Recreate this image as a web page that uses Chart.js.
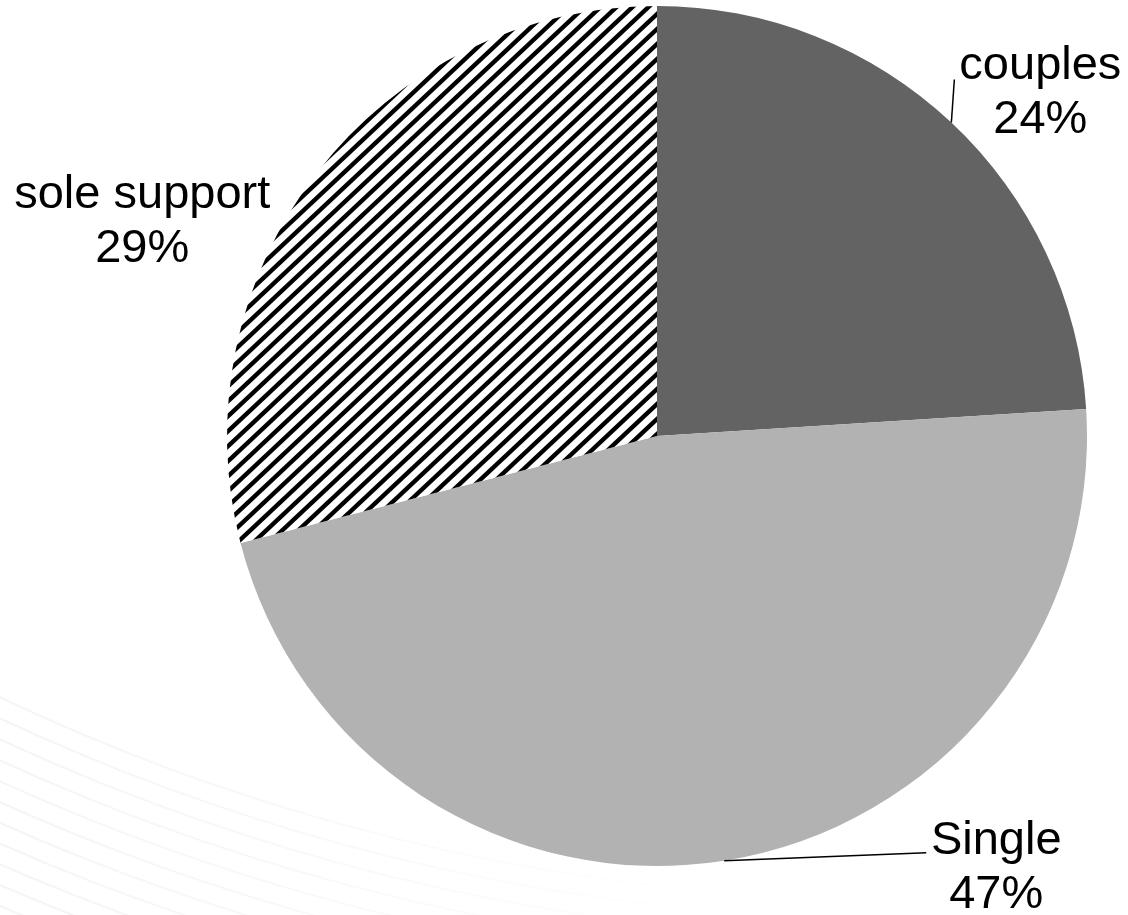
<!DOCTYPE html>
<html>
<head>
<meta charset="utf-8">
<script src="https://cdn.jsdelivr.net/npm/chart.js@4/dist/chart.umd.min.js"></script>
<style>
  html, body { margin: 0; padding: 0; background: #fff; }
  #wrap { width: 1128px; height: 915px; }
</style>
</head>
<body>
<div id="wrap"><canvas id="pie"></canvas></div>
<script>
'use strict'

// data
const categories = ['couples', 'Single', 'sole support'];
const shares = [24, 47, 29];

// hatch fill for the third slice
function stripePattern() {
  const H = 16, V = 15, n = 4;
  const c = document.createElement('canvas');
  c.width = H * n;
  c.height = V * n;
  const g = c.getContext('2d');
  g.fillStyle = '#fff';
  g.fillRect(0, 0, c.width, c.height);
  g.strokeStyle = '#000';
  g.lineWidth = 4.4;
  for (let k = -2 * n; k <= 2 * n; k++) {
    // run each line past the tile edges so the tiles join cleanly
    g.beginPath();
    g.moveTo(k * H - H, c.height + V);
    g.lineTo(k * H + n * H + H, -V);
    g.stroke();
  }
  return g.createPattern(c, 'repeat');
}

// where each label sits, relative to the slice's outer mid point
const labelSpots = [
  { dx: 89, dy: -44, line: [3, -43] },
  { dx: 272, dy: -7, line: [202, -8] },
  { dx: -175, dy: 36, line: null }
];

// faint swirl in the bottom left corner
const swirl = {
  id: 'swirl',
  beforeDraw(chart) {
    const ctx = chart.ctx;
    ctx.save();
    ctx.beginPath();
    ctx.rect(0, 640, 760, 275);
    ctx.clip();
    const grad = ctx.createLinearGradient(0, 0, 740, 0);
    grad.addColorStop(0, 'rgba(150,160,165,0.11)');
    grad.addColorStop(1, 'rgba(150,160,165,0)');
    ctx.strokeStyle = grad;
    ctx.lineWidth = 2;
    for (let r = 2100; r < 2360; r += 19) {
      ctx.beginPath();
      ctx.arc(900, -1200, r, Math.PI * 0.5, Math.PI * 0.85);
      ctx.stroke();
    }
    ctx.restore();
  }
};

// labels with leader lines
const sliceLabels = {
  id: 'sliceLabels',
  afterDatasetsDraw(chart) {
    const ctx = chart.ctx;
    const ds = chart.data.datasets[0];
    const total = ds.data.reduce(function (a, b) { return a + b; }, 0);
    chart.getDatasetMeta(0).data.forEach(function (arc, i) {
      const p = arc.getProps(['x', 'y', 'startAngle', 'endAngle', 'outerRadius'], true);
      const mid = (p.startAngle + p.endAngle) / 2;
      const ax = p.x + Math.cos(mid) * p.outerRadius;
      const ay = p.y + Math.sin(mid) * p.outerRadius;
      const spot = labelSpots[i];
      ctx.save();
      if (spot.line) {
        ctx.strokeStyle = '#000';
        ctx.lineWidth = 1.5;
        ctx.beginPath();
        ctx.moveTo(ax, ay);
        ctx.lineTo(ax + spot.line[0], ay + spot.line[1]);
        ctx.stroke();
      }
      ctx.fillStyle = '#000';
      ctx.font = '47px "Liberation Sans", Arial, sans-serif';
      ctx.textAlign = 'center';
      ctx.textBaseline = 'alphabetic';
      const pct = Math.round(ds.data[i] / total * 100) + '%';
      ctx.fillText(chart.data.labels[i], ax + spot.dx, ay + spot.dy);
      ctx.fillText(pct, ax + spot.dx, ay + spot.dy + 54);
      ctx.restore();
    });
  }
};

const config = {
  type: 'pie',
  data: {
    labels: categories,
    datasets: [{
      data: shares,
      backgroundColor: ['#636363', '#b2b2b2', stripePattern()],
      borderWidth: 0
    }]
  },
  options: {
    responsive: false,
    animation: false,
    layout: { padding: { left: 227, right: 41, top: 6, bottom: 49 } },
    plugins: {
      legend: { display: false },
      tooltip: { enabled: false }
    }
  },
  plugins: [swirl, sliceLabels]
};

const cv = document.getElementById('pie');
cv.width = 1128;
cv.height = 915;
cv.style.width = '1128px';
cv.style.height = '915px';
new Chart(cv, config);
</script>
</body>
</html>
